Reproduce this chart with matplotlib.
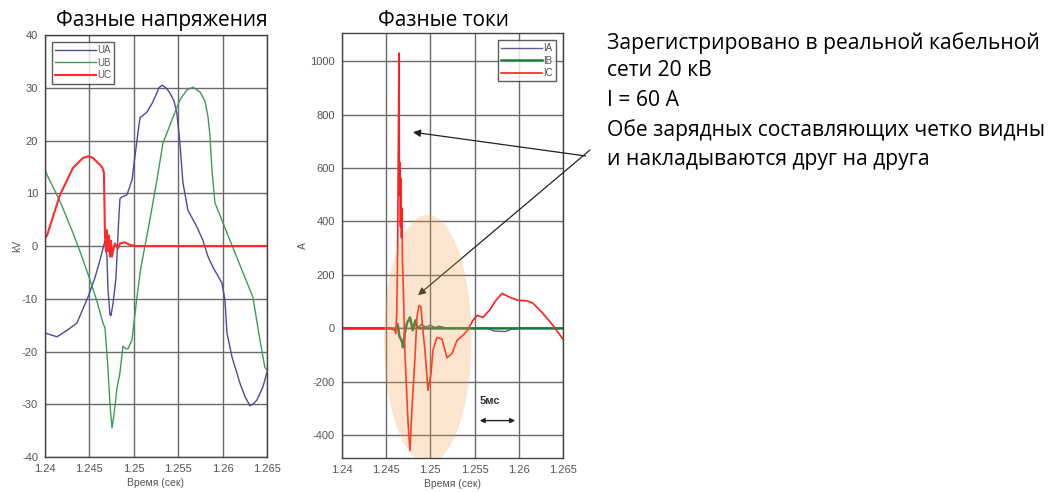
import matplotlib
matplotlib.use("Agg")
import matplotlib.pyplot as plt
from matplotlib.patches import Ellipse

plt.rcParams["axes.unicode_minus"] = False

# phase voltages, kV
ua_t = [1.2400, 1.24135, 1.24248, 1.2436, 1.24484, 1.24563, 1.24619, 1.24676, 1.24698, 1.24709,
        1.24732, 1.24743, 1.24766, 1.248, 1.24822, 1.24834, 1.24845, 1.24867, 1.24923, 1.2498,
        1.25036, 1.2507, 1.25149, 1.25205, 1.25239, 1.25284, 1.25318, 1.25363, 1.25408, 1.25453,
        1.25486, 1.2552, 1.25554, 1.2561, 1.25712, 1.25779, 1.25836, 1.25892, 1.25993, 1.26027,
        1.2605, 1.26106, 1.26196, 1.26252, 1.26309, 1.26354, 1.26387, 1.26455, 1.265]
ua_v = [-16.5, -17.2, -16.0, -14.6, -9.7, -6.0, -2.7, 1.0, -2.0, -8.0,
        -13.0, -13.2, -11.0, -6.0, 2.0, 6.0, 9.0, 9.3, 9.7, 12.5,
        20.0, 24.3, 25.4, 27.0, 28.2, 30.0, 30.5, 30.0, 29.0, 27.5,
        25.2, 19.5, 12.0, 6.8, 3.6, 1.1, -2.0, -4.0, -7.0, -10.2,
        -16.5, -21.0, -26.0, -28.5, -30.3, -29.8, -29.2, -26.7, -24.0]

ub_t = [1.2400, 1.24023, 1.24169, 1.24315, 1.24394, 1.24507, 1.24586, 1.24653, 1.24676, 1.24709,
        1.24732, 1.24755, 1.24777, 1.24811, 1.24845, 1.24878, 1.24912, 1.24935, 1.2498, 1.25036,
        1.25081, 1.25126, 1.25182, 1.25261, 1.25329, 1.2543, 1.2552, 1.25599, 1.25667, 1.25746,
        1.25802, 1.25836, 1.25858, 1.25881, 1.25914, 1.25993, 1.26083, 1.26174, 1.26309, 1.26342,
        1.26421, 1.26477, 1.265]
ub_v = [14.5, 13.5, 8.5, 2.5, -1.0, -6.4, -10.5, -14.6, -15.5, -23.0,
        -30.0, -34.5, -32.0, -27.0, -24.0, -19.0, -19.5, -19.5, -17.8, -9.7,
        -4.0, 0.0, 5.0, 12.5, 19.5, 23.9, 27.7, 29.6, 30.1, 29.2,
        27.5, 24.5, 21.0, 14.4, 8.2, 4.9, 1.1, -2.7, -8.3, -9.7,
        -17.8, -23.0, -23.5]

uc_t = [1.2400, 1.24023, 1.24169, 1.24315, 1.24428, 1.24484, 1.24541, 1.24642, 1.24664, 1.24676,
        1.24687, 1.24698, 1.24709, 1.24721, 1.24732, 1.24743, 1.24755, 1.24766, 1.24788, 1.24822,
        1.24845, 1.24901, 1.24957, 1.25014, 1.265]
uc_v = [1.5, 2.0, 9.7, 14.8, 16.7, 17.0, 16.7, 15.0, 14.0, 2.0,
        -1.0, 3.0, -1.0, 2.0, -2.0, 1.0, -2.0, -1.0, 0.5, -0.5,
        0.5, 0.7, 0.2, 0.0, 0.0]

# phase currents, A
ia_t = [1.2400, 1.2485, 1.2490, 1.2495, 1.2500, 1.2505, 1.2510, 1.2520, 1.2565, 1.2572, 1.2585, 1.2592, 1.2600, 1.265]
ia_v = [0, 0, 15, 5, 12, 3, 8, 0, 0, -10, -12, -3, 0, 0]

ib_t = [1.2400, 1.2455, 1.2460, 1.2463, 1.2465, 1.2468, 1.2469, 1.2471, 1.24735, 1.2477,
        1.2480, 1.2483, 1.2485, 1.2488, 1.265]
ib_v = [0, 0, -5, 15, -30, -50, -71, -20, 19, 41, -7, 30, 5, 0, 0]

ic_t = [1.2400, 1.2449, 1.2459, 1.2461, 1.2462, 1.2463, 1.24645, 1.2465, 1.24656, 1.24662,
        1.24667, 1.24673, 1.24679, 1.24684, 1.2469, 1.24713, 1.24747, 1.24769, 1.24792, 1.24826,
        1.24848, 1.24871, 1.24893, 1.24916, 1.24939, 1.24973, 1.25007, 1.25029, 1.25074, 1.25131,
        1.25188, 1.25244, 1.25301, 1.25369, 1.25425, 1.25482, 1.25527, 1.25595, 1.25674, 1.2573,
        1.2581, 1.259, 1.25991, 1.26092, 1.2616, 1.26273, 1.26387, 1.265]
ic_v = [0, 0, 0, -20, 60, 300, 1030, 500, 620, 380,
        560, 340, 450, 250, 200, -100, -350, -457, -300, -109,
        41, 86, 80, -10, -82, -232, -170, -82, -34, -40,
        -110, -95, -45, -26, -5, 30, 49, 41, 70, 100,
        131, 116, 105, 103, 94, 56, 11, -40]

xticks = [1.24, 1.245, 1.25, 1.255, 1.26, 1.265]
xticklabels = ["1.24", "1.245", "1.25", "1.255", "1.26", "1.265"]
v_ticks = [-40, -30, -20, -10, 0, 10, 20, 30, 40]
i_ticks = [-400, -200, 0, 200, 400, 600, 800, 1000]

note_lines = ["Зарегистрировано в реальной кабельной",
              "сети 20 кВ",
              "I = 60 A",
              "Обе зарядных составляющих четко видны",
              "и накладываются друг на друга"]

tick_gray = "#555555"
grid_gray = "#6a6a6a"

fig = plt.figure(figsize=(10.63, 4.92), dpi=100)
fig.patch.set_facecolor("white")

ax1 = fig.add_axes([0.0423, 0.0711, 0.2088, 0.8577])
ax2 = fig.add_axes([0.3217, 0.0691, 0.2079, 0.8638])


def style(ax):
    ax.set_xlim(1.24, 1.265)
    ax.set_xticks(xticks)
    ax.set_xticklabels(xticklabels)
    ax.grid(True, color=grid_gray, lw=1.0)
    ax.set_axisbelow(True)
    for s in ax.spines.values():
        s.set_color("#444444")
        s.set_linewidth(1.0)
    ax.tick_params(direction="in", length=0, labelsize=8, colors=tick_gray)
    ax.tick_params(axis="x", pad=5)
    ax.tick_params(axis="y", pad=5)
    for lab in ax.get_xticklabels() + ax.get_yticklabels():
        lab.set_family("Liberation Sans")
    ax.set_xlabel("Время (сек)", fontsize=7.5, color=tick_gray, family="Liberation Sans", labelpad=3)


def legend_box(ax, where):
    leg = ax.legend(loc=where, fontsize=7, frameon=True, fancybox=False, handlelength=4.2,
                    handletextpad=0.1, borderpad=0.35, labelspacing=0.25, borderaxespad=0.7)
    leg.get_frame().set_edgecolor("#333333")
    leg.get_frame().set_linewidth(1.0)
    for t in leg.get_texts():
        t.set_color(tick_gray)
        t.set_family("Liberation Sans")


# left: voltages
ax1.plot(ua_t, ua_v, color="#4b4b9b", lw=1.0, label="UA")
ax1.plot(ub_t, ub_v, color="#3f9a5c", lw=1.0, label="UB")
ax1.plot(uc_t, uc_v, color="#ff2a2a", lw=1.5, label="UC")
ax1.set_ylim(-40, 40)
ax1.set_yticks(v_ticks)
style(ax1)
ax1.set_ylabel("kV", fontsize=7.5, color=tick_gray, family="Liberation Sans", labelpad=0)
legend_box(ax1, "upper left")

# right: currents
ax2.plot(ia_t, ia_v, color="#5a5a8c", lw=1.0, label="IA")
ax2.plot(ib_t, ib_v, color="#1f7a3c", lw=1.8, label="IB")
ax2.plot(ic_t, ic_v, color="#ff1f1f", lw=1.2, label="IC")
ax2.set_ylim(-485, 1105)
ax2.set_yticks(i_ticks)
style(ax2)
ax2.set_ylabel("A", fontsize=7.5, color=tick_gray, family="Liberation Sans", labelpad=2)
legend_box(ax2, "upper right")

# highlighted area of the charge components
ell = Ellipse((1.2497, -40), 0.0099, 930, facecolor="#f5a04a", edgecolor="none", alpha=0.27, zorder=5)
ax2.add_patch(ell)

# 5 ms scale
ax2.annotate("", xy=(1.25527, -345), xytext=(1.25991, -345),
             arrowprops=dict(arrowstyle="<|-|>", color="#222222", lw=1.0, mutation_scale=7))
ax2.text(1.2556, -272, "5мс", fontsize=8, color="#333333", family="Liberation Sans",
         fontweight="bold", va="center", ha="left")

# titles
fig.text(0.152, 0.958, "Фазные напряжения", fontsize=15, family="Open Sans", ha="center", va="center")
fig.text(0.417, 0.958, "Фазные токи", fontsize=15, family="Open Sans", ha="center", va="center")

# notes
note_y = [43, 71, 100, 130, 159]
for line, py in zip(note_lines, note_y):
    fig.text(0.571, 1 - py / 492, line, fontsize=15.2, family="Open Sans", ha="left", va="center")

# arrows from the note to the curve
ax2.annotate("", xy=(1.24803, 734), xycoords="data", xytext=(0.551, 1 - 156 / 492),
             textcoords="figure fraction", annotation_clip=False,
             arrowprops=dict(arrowstyle="-|>", color="#222222", lw=0.9, mutation_scale=11, shrinkA=0, shrinkB=0))
ax2.annotate("", xy=(1.2486, 124), xycoords="data", xytext=(0.555, 1 - 150 / 492),
             textcoords="figure fraction", annotation_clip=False,
             arrowprops=dict(arrowstyle="-|>", color="#222222", lw=0.9, mutation_scale=11, shrinkA=0, shrinkB=0))

fig.savefig("out.png", dpi=100)
